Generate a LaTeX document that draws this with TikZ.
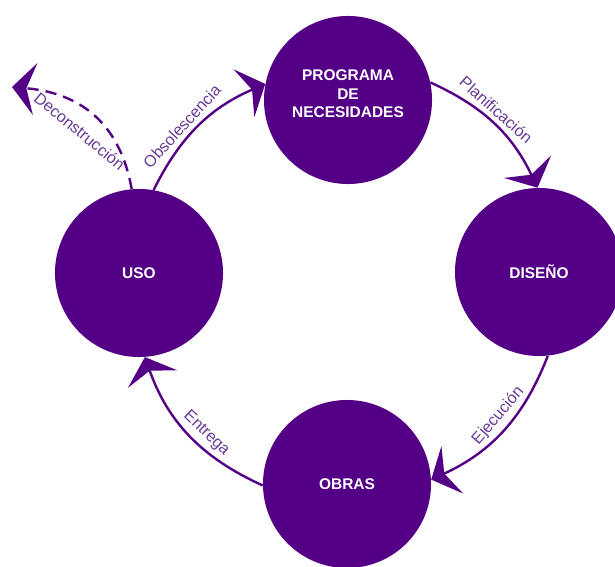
\documentclass[tikz,border=0pt]{standalone}
\usepackage{fontspec}
\setmainfont{Liberation Sans}
\usetikzlibrary{arrows.meta}
\definecolor{morado}{RGB}{84,0,134}
\definecolor{moradoclaro}{RGB}{104,58,150}

\begin{document}
\begin{tikzpicture}[x=0.025cm, y=0.025cm,
		etapa/.style={circle, fill=morado, minimum size=4.2cm, inner sep=0pt, text=white, align=center, font=\bfseries\fontsize{11}{13}\selectfont},
		flujo/.style={draw=morado, line width=1.7pt, -{Stealth[length=5.8mm, width=13mm, inset=2.2mm]}},
		etiqueta/.style={text=moradoclaro, font=\fontsize{11.5}{13}\selectfont, sloped}]
		\useasboundingbox (0, 0) rectangle (615, 566);
		\node[etapa] (P) at (348, 466) {PROGRAMA\\DE\\NECESIDADES\\[-4pt]\mbox{}};
		\node[etapa] (D) at (539, 294) {DISEÑO};
		\node[etapa] (O) at (347, 82) {OBRAS};
		\node[etapa] (U) at (139, 293) {USO};
		\coordinate (F) at (12, 479);
		\draw[flujo] (P.12) to[bend left=20] node[etiqueta, pos=0.44, above] {Planificación} (D.91);
		\draw[flujo] (D.-84) to[bend left=22] node[etiqueta, pos=0.45, above] {Ejecución} (O.3);
		\draw[flujo] (O.181) to[bend left=23] node[etiqueta, pos=0.43, above] {Entrega} (U.-86);
		\draw[flujo] (U.80) to[bend left=20] node[etiqueta, pos=0.42, above] {Obsolescencia} (P.169);
		\draw[flujo, dash pattern=on 8pt off 5pt] (U.95) to[out=100, in=-5, looseness=1.1] node[etiqueta, pos=0.5, below=6pt] {Deconstrucción} (F);
	\end{tikzpicture}
\end{document}
